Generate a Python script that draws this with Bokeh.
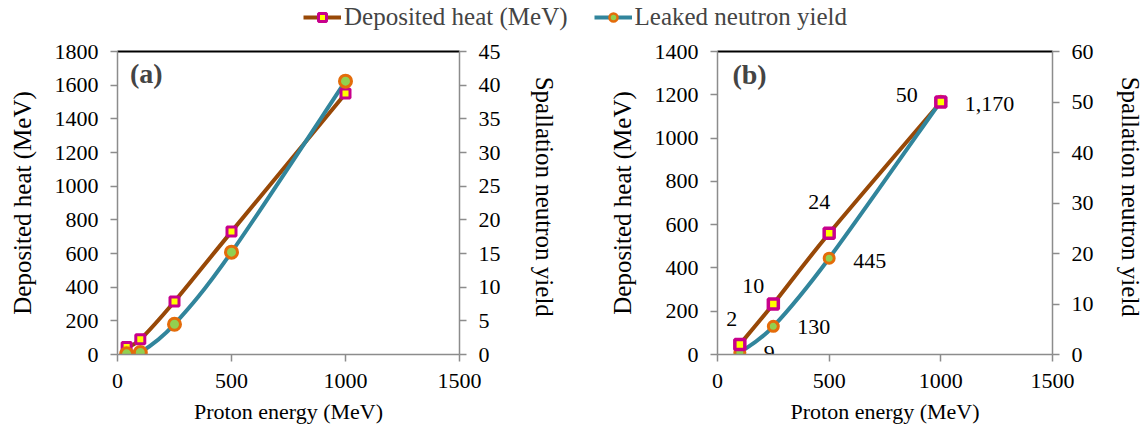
import numpy as np
from bokeh.plotting import figure
from bokeh.models import (Range1d, LinearAxis, FixedTicker, Legend, LegendItem,
                          ColumnDataSource, Label)
from bokeh.layouts import column, row
from bokeh.embed import file_html
from bokeh.resources import INLINE
from bokeh.core.properties import value

# ---------------- data ----------------
legend_labels = ["Deposited heat (MeV)", "Leaked neutron yield"]
x_ticks = [0, 500, 1000, 1500]

# panel (a)
energy_a = [40, 100, 250, 500, 1000]
heat_a = [45, 90, 315, 730, 1550]          # left axis (MeV)
yield_a = [0.1, 0.3, 4.5, 15.2, 40.6]      # right axis
left_ticks_a = [0, 200, 400, 600, 800, 1000, 1200, 1400, 1600, 1800]
right_ticks_a = [0, 5, 10, 15, 20, 25, 30, 35, 40, 45]

# panel (b)
energy_b = [100, 250, 500, 1000]
square_b = [2, 10, 24, 50]                 # square markers, right axis
circle_b = [9, 130, 445, 1170]             # circle markers, left axis
square_b_labels = ["2", "10", "24", "50"]
circle_b_labels = ["9", "130", "445", "1,170"]
left_ticks_b = [0, 200, 400, 600, 800, 1000, 1200, 1400]
right_ticks_b = [0, 10, 20, 30, 40, 50, 60]

# ---------------- styles ----------------
FONT = "Liberation Serif"
BROWN = "#984807"
TEAL = "#31859C"
MAGENTA = "#C8008C"
YELLOW = "#FFFF00"
ORANGE = "#E46C0A"
GREEN = "#92D050"
AXIS_GRAY = "#8C8C8C"


def smooth(xs, ys, k=1.0 / 6.0):
    """Bezier control points for a smoothed line through the data points."""
    xs = np.asarray(xs, float)
    ys = np.asarray(ys, float)
    px = np.concatenate([[xs[0]], xs, [xs[-1]]])
    py = np.concatenate([[ys[0]], ys, [ys[-1]]])
    out = dict(x0=[], y0=[], x1=[], y1=[], cx0=[], cy0=[], cx1=[], cy1=[])
    for i in range(len(xs) - 1):
        out["x0"].append(px[i + 1]); out["y0"].append(py[i + 1])
        out["x1"].append(px[i + 2]); out["y1"].append(py[i + 2])
        out["cx0"].append(px[i + 1] + (px[i + 2] - px[i]) * k)
        out["cy0"].append(py[i + 1] + (py[i + 2] - py[i]) * k)
        out["cx1"].append(px[i + 2] - (px[i + 3] - px[i + 1]) * k)
        out["cy1"].append(py[i + 2] - (py[i + 3] - py[i + 1]) * k)
    return out


def style_axis(ax, ticks, title_size):
    ax.ticker = FixedTicker(ticks=ticks)
    ax.axis_line_color = AXIS_GRAY
    ax.axis_line_width = 1.5
    ax.major_tick_line_color = AXIS_GRAY
    ax.major_tick_line_width = 1.5
    ax.major_tick_out = 7
    ax.major_tick_in = 0
    ax.minor_tick_out = 0
    ax.minor_tick_in = 0
    ax.major_label_text_font = FONT
    ax.major_label_text_font_size = "22px"
    ax.major_label_text_color = "black"
    ax.major_label_standoff = 12
    ax.axis_label_text_font = FONT
    ax.axis_label_text_font_size = title_size
    ax.axis_label_text_font_style = "normal"
    ax.axis_label_text_color = "black"


def make_panel(fw, bl, br, lmax, lticks, rmax, rticks, r_standoff):
    p = figure(frame_width=fw, frame_height=303,
               min_border_left=bl, min_border_right=br,
               min_border_top=13, min_border_bottom=73,
               x_range=Range1d(0, 1500), y_range=Range1d(0, lmax),
               toolbar_location=None, output_backend="svg")
    p.extra_y_ranges = {"r": Range1d(0, rmax)}
    p.xgrid.visible = False
    p.ygrid.visible = False
    p.outline_line_color = None
    style_axis(p.xaxis[0], x_ticks, "22px")
    p.xaxis[0].axis_label = "Proton energy (MeV)"
    p.xaxis[0].axis_label_standoff = 8
    style_axis(p.yaxis[0], lticks, "25px")
    p.yaxis[0].axis_label = "Deposited heat (MeV)"
    p.yaxis[0].axis_label_standoff = 16
    rax = LinearAxis(y_range_name="r", axis_label="Spallation  neutron  yield")
    style_axis(rax, rticks, "25px")
    rax.axis_label_standoff = r_standoff
    p.add_layout(rax, "right")
    top = LinearAxis(ticker=FixedTicker(ticks=[]), major_label_text_font_size="0px",
                     axis_line_color="black", axis_line_width=2,
                     major_tick_out=0, major_tick_in=0, minor_tick_out=0, minor_tick_in=0)
    p.add_layout(top, "above")
    return p


# ---------------- panel (a) ----------------
pa = make_panel(342, 117, 131, 1800, left_ticks_a, 45, right_ticks_a, 27)
pa.bezier(source=ColumnDataSource(smooth(energy_a, heat_a)), x0="x0", y0="y0", x1="x1", y1="y1",
          cx0="cx0", cy0="cy0", cx1="cx1", cy1="cy1", line_color=BROWN, line_width=4)
pa.bezier(source=ColumnDataSource(smooth(energy_a, yield_a)), x0="x0", y0="y0", x1="x1", y1="y1",
          cx0="cx0", cy0="cy0", cx1="cx1", cy1="cy1", line_color=TEAL, line_width=4,
          y_range_name="r")
pa.scatter(energy_a, heat_a, marker="square", size=9, fill_color=YELLOW,
           line_color=MAGENTA, line_width=3)
pa.scatter(energy_a, yield_a, marker="circle", size=12, fill_color=GREEN,
           line_color=ORANGE, line_width=3, y_range_name="r")
pa.add_layout(Label(x=55, y=1670, text="(a)", text_font=FONT, text_font_size="28px",
                    text_font_style="bold", text_baseline="middle", text_align="left"))

# ---------------- panel (b) ----------------
pb = make_panel(335, 127, 94, 1400, left_ticks_b, 60, right_ticks_b, 20)
pb.bezier(source=ColumnDataSource(smooth(energy_b, square_b)), x0="x0", y0="y0", x1="x1", y1="y1",
          cx0="cx0", cy0="cy0", cx1="cx1", cy1="cy1", line_color=BROWN, line_width=4,
          y_range_name="r")
pb.bezier(source=ColumnDataSource(smooth(energy_b, circle_b)), x0="x0", y0="y0", x1="x1", y1="y1",
          cx0="cx0", cy0="cy0", cx1="cx1", cy1="cy1", line_color=TEAL, line_width=4)
pb.scatter(energy_b, circle_b, marker="circle", size=10, fill_color=GREEN,
           line_color=ORANGE, line_width=3)
pb.scatter(energy_b, square_b, marker="square", size=10, fill_color=YELLOW,
           line_color=MAGENTA, line_width=3.5, y_range_name="r")

sq_src = ColumnDataSource(dict(x=energy_b, y=square_b, t=square_b_labels,
                               xo=[-8, -20, -10, -34], yo=[-25, -18, -31, -7]))
pb.text(x="x", y="y", text="t", x_offset="xo", y_offset="yo", source=sq_src,
        y_range_name="r", text_font=value(FONT), text_font_size="22px",
        text_align="center", text_baseline="middle", text_color="black")
ci_src = ColumnDataSource(dict(x=energy_b, y=circle_b, t=circle_b_labels,
                               yo=[0, 1, 3, 3]))
pb.text(x="x", y="y", text="t", x_offset=24, y_offset="yo", source=ci_src,
        text_font=value(FONT), text_font_size="22px",
        text_align="left", text_baseline="middle", text_color="black")
pb.add_layout(Label(x=67, y=1293, text="(b)", text_font=FONT, text_font_size="28px",
                    text_font_style="bold", text_baseline="middle", text_align="left"))

# ---------------- legend strip ----------------
lg = figure(width=1146, height=38, x_range=Range1d(0, 1), y_range=Range1d(0, 1),
            x_axis_location=None, y_axis_location=None, min_border=0,
            toolbar_location=None, output_backend="svg")
lg.xgrid.visible = False
lg.ygrid.visible = False
lg.outline_line_color = None
nan = np.array([np.nan])
r1 = lg.line(nan, nan, line_color=BROWN, line_width=4)
r2 = lg.scatter(nan, nan, marker="square", size=9, fill_color=YELLOW,
                line_color=MAGENTA, line_width=3)
r3 = lg.line(nan, nan, line_color=TEAL, line_width=4)
r4 = lg.scatter(nan, nan, marker="circle", size=12, fill_color=GREEN,
                line_color=ORANGE, line_width=2.5)
legend = Legend(items=[LegendItem(label=legend_labels[0], renderers=[r1, r2]),
                       LegendItem(label=legend_labels[1], renderers=[r3, r4])],
                orientation="horizontal", location=(303, 7),
                glyph_width=38, glyph_height=20, label_standoff=3,
                label_text_font=FONT, label_text_font_size="25px",
                spacing=26, padding=2, margin=0,
                border_line_color=None, background_fill_alpha=0)
lg.add_layout(legend)

layout = column(lg, row(pa, pb))
open("out.html", "w").write(file_html(layout, INLINE))
